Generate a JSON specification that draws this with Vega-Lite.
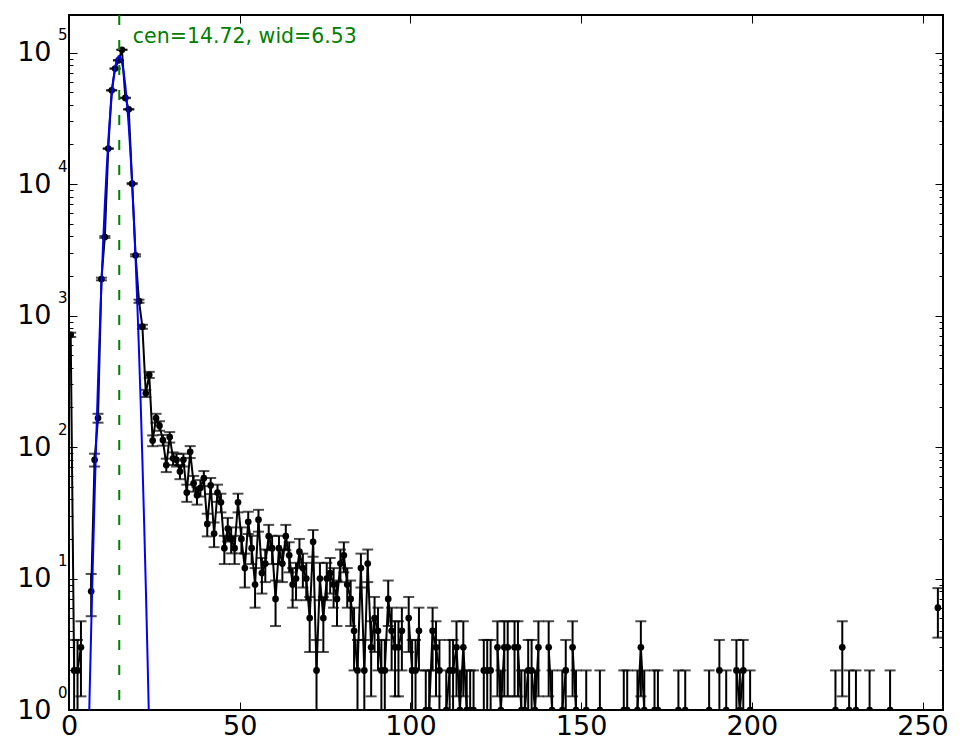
{
  "$schema": "https://vega.github.io/schema/vega-lite/v6.json",
  "width": 874,
  "height": 695,
  "autosize": {"type": "none"},
  "padding": {"left": 69, "top": 15, "right": 22, "bottom": 46},
  "background": "white",
  "config": {
    "view": {"stroke": "black", "strokeWidth": 2},
    "font": "DejaVu Sans",
    "axis": {"labelFont": "DejaVu Sans", "labelColor": "black", "tickColor": "black", "tickWidth": 1, "domain": false, "grid": false, "title": null, "labelOverlap": false, "labelBound": false, "labelFlush": false}
  },
  "datasets": {
    "hist": [
      {"x": 0.5, "n": 714, "lo": 687.28, "hi": 740.72, "s": 1},
      {"x": 1.5, "n": 2, "lo": 0.59, "hi": 3.41, "s": 1},
      {"x": 2.5, "n": 2, "lo": 0.59, "hi": 3.41, "s": 1},
      {"x": 3.5, "n": 3, "lo": 1.27, "hi": 4.73, "s": 1},
      {"x": 6.5, "n": 8, "lo": 5.17, "hi": 10.83, "s": 2},
      {"x": 7.5, "n": 80, "lo": 71.06, "hi": 88.94, "s": 2},
      {"x": 8.5, "n": 166, "lo": 153.12, "hi": 178.88, "s": 2},
      {"x": 9.5, "n": 1896, "lo": 1852.46, "hi": 1939.54, "s": 2},
      {"x": 10.5, "n": 3955, "lo": 3892.11, "hi": 4017.89, "s": 2},
      {"x": 11.5, "n": 18600, "lo": 18463.62, "hi": 18736.38, "s": 2},
      {"x": 12.5, "n": 51600, "lo": 51372.84, "hi": 51827.16, "s": 2},
      {"x": 13.5, "n": 75500, "lo": 75225.23, "hi": 75774.77, "s": 2},
      {"x": 14.5, "n": 87300, "lo": 87004.53, "hi": 87595.47, "s": 2},
      {"x": 15.5, "n": 105000, "lo": 104675.96, "hi": 105324.04, "s": 2},
      {"x": 16.5, "n": 45200, "lo": 44987.4, "hi": 45412.6, "s": 2},
      {"x": 17.5, "n": 37000, "lo": 36807.65, "hi": 37192.35, "s": 2},
      {"x": 18.5, "n": 10070, "lo": 9969.65, "hi": 10170.35, "s": 2},
      {"x": 19.5, "n": 2870, "lo": 2816.43, "hi": 2923.57, "s": 2},
      {"x": 20.5, "n": 1285, "lo": 1249.15, "hi": 1320.85, "s": 2},
      {"x": 21.5, "n": 822, "lo": 793.33, "hi": 850.67, "s": 2},
      {"x": 22.5, "n": 256, "lo": 240, "hi": 272, "s": 2},
      {"x": 23.5, "n": 354, "lo": 335.19, "hi": 372.81, "s": 2},
      {"x": 24.5, "n": 112, "lo": 101.42, "hi": 122.58, "s": 2},
      {"x": 25.5, "n": 166, "lo": 153.12, "hi": 178.88, "s": 2},
      {"x": 26.5, "n": 145, "lo": 132.96, "hi": 157.04, "s": 2},
      {"x": 27.5, "n": 113, "lo": 102.37, "hi": 123.63, "s": 2},
      {"x": 28.5, "n": 73, "lo": 64.46, "hi": 81.54, "s": 2},
      {"x": 29.5, "n": 119, "lo": 108.09, "hi": 129.91, "s": 2},
      {"x": 30.5, "n": 82, "lo": 72.94, "hi": 91.06, "s": 2},
      {"x": 31.5, "n": 80, "lo": 71.06, "hi": 88.94, "s": 2},
      {"x": 32.5, "n": 65, "lo": 56.94, "hi": 73.06, "s": 2},
      {"x": 33.5, "n": 80, "lo": 71.06, "hi": 88.94, "s": 2},
      {"x": 34.5, "n": 45, "lo": 38.29, "hi": 51.71, "s": 2},
      {"x": 35.5, "n": 92, "lo": 82.41, "hi": 101.59, "s": 2},
      {"x": 36.5, "n": 53, "lo": 45.72, "hi": 60.28, "s": 2},
      {"x": 37.5, "n": 43, "lo": 36.44, "hi": 49.56, "s": 2},
      {"x": 38.5, "n": 49, "lo": 42, "hi": 56, "s": 2},
      {"x": 39.5, "n": 58, "lo": 50.38, "hi": 65.62, "s": 2},
      {"x": 40.5, "n": 26, "lo": 20.9, "hi": 31.1, "s": 2},
      {"x": 41.5, "n": 51, "lo": 43.86, "hi": 58.14, "s": 2},
      {"x": 42.5, "n": 22, "lo": 17.31, "hi": 26.69, "s": 2},
      {"x": 43.5, "n": 45, "lo": 38.29, "hi": 51.71, "s": 2},
      {"x": 44.5, "n": 38, "lo": 31.84, "hi": 44.16, "s": 2},
      {"x": 45.5, "n": 17, "lo": 12.88, "hi": 21.12, "s": 2},
      {"x": 46.5, "n": 24, "lo": 19.1, "hi": 28.9, "s": 2},
      {"x": 47.5, "n": 20, "lo": 15.53, "hi": 24.47, "s": 2},
      {"x": 48.5, "n": 17, "lo": 12.88, "hi": 21.12, "s": 2},
      {"x": 49.5, "n": 38, "lo": 31.84, "hi": 44.16, "s": 2},
      {"x": 50.5, "n": 20, "lo": 15.53, "hi": 24.47, "s": 2},
      {"x": 51.5, "n": 12, "lo": 8.54, "hi": 15.46, "s": 2},
      {"x": 52.5, "n": 27, "lo": 21.8, "hi": 32.2, "s": 2},
      {"x": 53.5, "n": 17, "lo": 12.88, "hi": 21.12, "s": 2},
      {"x": 54.5, "n": 9, "lo": 6, "hi": 12, "s": 2},
      {"x": 55.5, "n": 28, "lo": 22.71, "hi": 33.29, "s": 2},
      {"x": 56.5, "n": 11, "lo": 7.68, "hi": 14.32, "s": 2},
      {"x": 57.5, "n": 13, "lo": 9.39, "hi": 16.61, "s": 2},
      {"x": 58.5, "n": 21, "lo": 16.42, "hi": 25.58, "s": 2},
      {"x": 59.5, "n": 17, "lo": 12.88, "hi": 21.12, "s": 2},
      {"x": 60.5, "n": 7, "lo": 4.35, "hi": 9.65, "s": 2},
      {"x": 61.5, "n": 17, "lo": 12.88, "hi": 21.12, "s": 2},
      {"x": 62.5, "n": 13, "lo": 9.39, "hi": 16.61, "s": 2},
      {"x": 63.5, "n": 21, "lo": 16.42, "hi": 25.58, "s": 2},
      {"x": 64.5, "n": 15, "lo": 11.13, "hi": 18.87, "s": 2},
      {"x": 65.5, "n": 9, "lo": 6, "hi": 12, "s": 2},
      {"x": 66.5, "n": 10, "lo": 6.84, "hi": 13.16, "s": 2},
      {"x": 67.5, "n": 16, "lo": 12, "hi": 20, "s": 2},
      {"x": 68.5, "n": 12, "lo": 8.54, "hi": 15.46, "s": 2},
      {"x": 69.5, "n": 10, "lo": 6.84, "hi": 13.16, "s": 2},
      {"x": 70.5, "n": 5, "lo": 2.76, "hi": 7.24, "s": 2},
      {"x": 71.5, "n": 19, "lo": 14.64, "hi": 23.36, "s": 2},
      {"x": 72.5, "n": 2, "lo": 0.59, "hi": 3.41, "s": 2},
      {"x": 73.5, "n": 10, "lo": 6.84, "hi": 13.16, "s": 2},
      {"x": 74.5, "n": 5, "lo": 2.76, "hi": 7.24, "s": 2},
      {"x": 75.5, "n": 10, "lo": 6.84, "hi": 13.16, "s": 2},
      {"x": 76.5, "n": 11, "lo": 7.68, "hi": 14.32, "s": 2},
      {"x": 77.5, "n": 9, "lo": 6, "hi": 12, "s": 2},
      {"x": 78.5, "n": 7, "lo": 4.35, "hi": 9.65, "s": 2},
      {"x": 79.5, "n": 13, "lo": 9.39, "hi": 16.61, "s": 2},
      {"x": 80.5, "n": 15, "lo": 11.13, "hi": 18.87, "s": 2},
      {"x": 81.5, "n": 9, "lo": 6, "hi": 12, "s": 2},
      {"x": 82.5, "n": 7, "lo": 4.35, "hi": 9.65, "s": 2},
      {"x": 83.5, "n": 4, "lo": 2, "hi": 6, "s": 2},
      {"x": 84.5, "n": 2, "lo": 0.59, "hi": 3.41, "s": 2},
      {"x": 85.5, "n": 12, "lo": 8.54, "hi": 15.46, "s": 2},
      {"x": 86.5, "n": 2, "lo": 0.59, "hi": 3.41, "s": 2},
      {"x": 87.5, "n": 13, "lo": 9.39, "hi": 16.61, "s": 2},
      {"x": 88.5, "n": 3, "lo": 1.27, "hi": 4.73, "s": 2},
      {"x": 89.5, "n": 5, "lo": 2.76, "hi": 7.24, "s": 2},
      {"x": 90.5, "n": 4, "lo": 2, "hi": 6, "s": 2},
      {"x": 91.5, "n": 2, "lo": 0.59, "hi": 3.41, "s": 2},
      {"x": 92.5, "n": 2, "lo": 0.59, "hi": 3.41, "s": 2},
      {"x": 93.5, "n": 7, "lo": 4.35, "hi": 9.65, "s": 2},
      {"x": 94.5, "n": 4, "lo": 2, "hi": 6, "s": 2},
      {"x": 95.5, "n": 3, "lo": 1.27, "hi": 4.73, "s": 2},
      {"x": 96.5, "n": 3, "lo": 1.27, "hi": 4.73, "s": 2},
      {"x": 97.5, "n": 4, "lo": 2, "hi": 6, "s": 2},
      {"x": 99.5, "n": 5, "lo": 2.76, "hi": 7.24, "s": 3},
      {"x": 100.5, "n": 2, "lo": 0.59, "hi": 3.41, "s": 3},
      {"x": 101.5, "n": 2, "lo": 0.59, "hi": 3.41, "s": 3},
      {"x": 102.5, "n": 4, "lo": 2, "hi": 6, "s": 3},
      {"x": 104.5, "n": 1, "lo": 0.01, "hi": 2, "s": 4},
      {"x": 105.5, "n": 1, "lo": 0.01, "hi": 2, "s": 4},
      {"x": 106.5, "n": 4, "lo": 2, "hi": 6, "s": 4},
      {"x": 107.5, "n": 3, "lo": 1.27, "hi": 4.73, "s": 4},
      {"x": 108.5, "n": 2, "lo": 0.59, "hi": 3.41, "s": 4},
      {"x": 110.5, "n": 1, "lo": 0.01, "hi": 2, "s": 5},
      {"x": 111.5, "n": 2, "lo": 0.59, "hi": 3.41, "s": 5},
      {"x": 112.5, "n": 2, "lo": 0.59, "hi": 3.41, "s": 5},
      {"x": 113.5, "n": 3, "lo": 1.27, "hi": 4.73, "s": 5},
      {"x": 114.5, "n": 1, "lo": 0.01, "hi": 2, "s": 5},
      {"x": 115.5, "n": 3, "lo": 1.27, "hi": 4.73, "s": 5},
      {"x": 116.5, "n": 1, "lo": 0.01, "hi": 2, "s": 5},
      {"x": 117.5, "n": 1, "lo": 0.01, "hi": 2, "s": 5},
      {"x": 118.5, "n": 1, "lo": 0.01, "hi": 2, "s": 5},
      {"x": 121.5, "n": 2, "lo": 0.59, "hi": 3.41, "s": 6},
      {"x": 122.5, "n": 2, "lo": 0.59, "hi": 3.41, "s": 6},
      {"x": 123.5, "n": 2, "lo": 0.59, "hi": 3.41, "s": 6},
      {"x": 125.5, "n": 3, "lo": 1.27, "hi": 4.73, "s": 7},
      {"x": 126.5, "n": 1, "lo": 0.01, "hi": 2, "s": 7},
      {"x": 127.5, "n": 3, "lo": 1.27, "hi": 4.73, "s": 7},
      {"x": 128.5, "n": 3, "lo": 1.27, "hi": 4.73, "s": 7},
      {"x": 130.5, "n": 3, "lo": 1.27, "hi": 4.73, "s": 8},
      {"x": 131.5, "n": 3, "lo": 1.27, "hi": 4.73, "s": 8},
      {"x": 132.5, "n": 1, "lo": 0.01, "hi": 2, "s": 8},
      {"x": 133.5, "n": 1, "lo": 0.01, "hi": 2, "s": 8},
      {"x": 134.5, "n": 2, "lo": 0.59, "hi": 3.41, "s": 8},
      {"x": 135.5, "n": 2, "lo": 0.59, "hi": 3.41, "s": 8},
      {"x": 136.5, "n": 1, "lo": 0.01, "hi": 2, "s": 8},
      {"x": 137.5, "n": 3, "lo": 1.27, "hi": 4.73, "s": 8},
      {"x": 140.5, "n": 3, "lo": 1.27, "hi": 4.73, "s": 9},
      {"x": 141.5, "n": 1, "lo": 0.01, "hi": 2, "s": 9},
      {"x": 144.5, "n": 1, "lo": 0.01, "hi": 2, "s": 10},
      {"x": 145.5, "n": 2, "lo": 0.59, "hi": 3.41, "s": 10},
      {"x": 147.5, "n": 3, "lo": 1.27, "hi": 4.73, "s": 11},
      {"x": 148.5, "n": 1, "lo": 0.01, "hi": 2, "s": 11},
      {"x": 151.5, "n": 1, "lo": 0.01, "hi": 2, "s": 12},
      {"x": 155.5, "n": 1, "lo": 0.01, "hi": 2, "s": 13},
      {"x": 162.5, "n": 1, "lo": 0.01, "hi": 2, "s": 14},
      {"x": 163.5, "n": 1, "lo": 0.01, "hi": 2, "s": 14},
      {"x": 166.5, "n": 1, "lo": 0.01, "hi": 2, "s": 15},
      {"x": 167.5, "n": 3, "lo": 1.27, "hi": 4.73, "s": 15},
      {"x": 168.5, "n": 1, "lo": 0.01, "hi": 2, "s": 15},
      {"x": 171.5, "n": 1, "lo": 0.01, "hi": 2, "s": 16},
      {"x": 172.5, "n": 1, "lo": 0.01, "hi": 2, "s": 16},
      {"x": 178.5, "n": 1, "lo": 0.01, "hi": 2, "s": 17},
      {"x": 180.5, "n": 1, "lo": 0.01, "hi": 2, "s": 18},
      {"x": 187.5, "n": 1, "lo": 0.01, "hi": 2, "s": 19},
      {"x": 190.5, "n": 2, "lo": 0.59, "hi": 3.41, "s": 20},
      {"x": 192.5, "n": 1, "lo": 0.01, "hi": 2, "s": 21},
      {"x": 195.5, "n": 2, "lo": 0.59, "hi": 3.41, "s": 22},
      {"x": 196.5, "n": 1, "lo": 0.01, "hi": 2, "s": 22},
      {"x": 197.5, "n": 2, "lo": 0.59, "hi": 3.41, "s": 22},
      {"x": 199.5, "n": 1, "lo": 0.01, "hi": 2, "s": 23},
      {"x": 224.5, "n": 1, "lo": 0.01, "hi": 2, "s": 24},
      {"x": 226.5, "n": 3, "lo": 1.27, "hi": 4.73, "s": 25},
      {"x": 228.5, "n": 1, "lo": 0.01, "hi": 2, "s": 26},
      {"x": 230.5, "n": 1, "lo": 0.01, "hi": 2, "s": 27},
      {"x": 234.5, "n": 1, "lo": 0.01, "hi": 2, "s": 28},
      {"x": 240.5, "n": 1, "lo": 0.01, "hi": 2, "s": 29},
      {"x": 254.5, "n": 6, "lo": 3.55, "hi": 8.45, "s": 30}
    ],
    "fit": [
      {"x": 5.0, "f": 0.074}, {"x": 5.5, "f": 0.3}, {"x": 6.0, "f": 1.18}, {"x": 6.5, "f": 4.15},
      {"x": 7.0, "f": 13.7}, {"x": 7.5, "f": 41.9}, {"x": 8.0, "f": 118.6}, {"x": 8.5, "f": 311},
      {"x": 9.0, "f": 759}, {"x": 9.5, "f": 1717}, {"x": 10.0, "f": 3594}, {"x": 10.5, "f": 6980},
      {"x": 11.0, "f": 12580}, {"x": 11.5, "f": 21020}, {"x": 12.0, "f": 32570}, {"x": 12.5, "f": 46790},
      {"x": 13.0, "f": 62330}, {"x": 13.5, "f": 76990}, {"x": 14.0, "f": 88190}, {"x": 14.5, "f": 93680},
      {"x": 14.65, "f": 94000}, {"x": 15.0, "f": 92280}, {"x": 15.5, "f": 84290}, {"x": 16.0, "f": 71390},
      {"x": 16.5, "f": 56080}, {"x": 17.0, "f": 40840}, {"x": 17.5, "f": 27580}, {"x": 18.0, "f": 17270},
      {"x": 18.5, "f": 10040}, {"x": 19.0, "f": 5405}, {"x": 19.5, "f": 2700}, {"x": 20.0, "f": 1250},
      {"x": 20.5, "f": 537}, {"x": 21.0, "f": 214}, {"x": 21.5, "f": 78.8}, {"x": 22.0, "f": 27},
      {"x": 22.5, "f": 8.6}, {"x": 23.0, "f": 2.53}, {"x": 23.5, "f": 0.69}, {"x": 24.0, "f": 0.17}
    ],
    "note": [
      {"cen": 14.72, "tx": 18.7, "ty": 117500, "label": "cen=14.72, wid=6.53"}
    ]
  },
  "layer": [
    {
      "data": {"name": "hist"},
      "mark": {"type": "rule", "color": "black", "strokeWidth": 2, "clip": true},
      "encoding": {
        "x": {
          "field": "x", "type": "quantitative",
          "scale": {"domain": [0, 256], "nice": false, "zero": false},
          "axis": {"orient": "bottom", "values": [0, 50, 100, 150, 200, 250], "ticks": false, "labelFontSize": 27, "labelPadding": 3}
        },
        "y": {
          "field": "lo", "type": "quantitative",
          "scale": {"type": "log", "domain": [1, 193000], "nice": false},
          "axis": {
            "orient": "left",
            "values": [1, 10, 100, 1000, 10000, 100000],
            "ticks": false,
            "labelExpr": "'10'",
            "labelFontSize": 27,
            "labelBaseline": "middle",
            "labelPadding": 18
          }
        },
        "y2": {"field": "hi"}
      }
    },
    {
      "data": {"name": "hist"},
      "mark": {"type": "tick", "orient": "horizontal", "size": 11, "thickness": 2, "color": "black", "clip": true},
      "encoding": {
        "x": {
          "field": "x", "type": "quantitative",
          "axis": {"orient": "top", "values": [0, 50, 100, 150, 200, 250], "tickSize": -8, "labels": false}
        },
        "y": {
          "field": "hi", "type": "quantitative",
          "axis": {
            "orient": "right",
            "values": [1, 2, 3, 4, 5, 6, 7, 8, 9, 10, 20, 30, 40, 50, 60, 70, 80, 90, 100, 200, 300, 400, 500, 600, 700, 800, 900, 1000, 2000, 3000, 4000, 5000, 6000, 7000, 8000, 9000, 10000, 20000, 30000, 40000, 50000, 60000, 70000, 80000, 90000, 100000],
            "tickSize": {"condition": {"test": "abs(log(datum.value)/LN10 - round(log(datum.value)/LN10)) < 0.001", "value": -8}, "value": -4},
            "labels": false
          }
        }
      }
    },
    {
      "data": {"name": "hist"},
      "mark": {"type": "tick", "orient": "horizontal", "size": 11, "thickness": 2, "color": "black", "clip": true},
      "encoding": {
        "x": {
          "field": "x", "type": "quantitative",
          "axis": {"orient": "bottom", "values": [0, 50, 100, 150, 200, 250], "tickSize": -8, "labels": false}
        },
        "y": {
          "field": "lo", "type": "quantitative",
          "axis": {
            "orient": "left",
            "values": [1, 10, 100, 1000, 10000, 100000],
            "ticks": false,
            "labelExpr": "'' + round(log(datum.value)/LN10)",
            "labelFontSize": 15,
            "labelBaseline": "middle",
            "labelOffset": -18,
            "labelPadding": 2
          }
        }
      }
    },
    {
      "data": {"name": "hist"},
      "mark": {"type": "line", "color": "black", "strokeWidth": 2, "clip": true},
      "encoding": {
        "x": {"field": "x", "type": "quantitative", "axis": null},
        "y": {
          "field": "n", "type": "quantitative",
          "axis": {
            "orient": "left",
            "values": [1, 2, 3, 4, 5, 6, 7, 8, 9, 10, 20, 30, 40, 50, 60, 70, 80, 90, 100, 200, 300, 400, 500, 600, 700, 800, 900, 1000, 2000, 3000, 4000, 5000, 6000, 7000, 8000, 9000, 10000, 20000, 30000, 40000, 50000, 60000, 70000, 80000, 90000, 100000],
            "tickSize": {"condition": {"test": "abs(log(datum.value)/LN10 - round(log(datum.value)/LN10)) < 0.001", "value": -8}, "value": -4},
            "labels": false
          }
        },
        "detail": {"field": "s", "type": "nominal"}
      }
    },
    {
      "data": {"name": "hist"},
      "mark": {"type": "circle", "color": "black", "opacity": 1, "size": 45, "clip": true},
      "encoding": {
        "x": {"field": "x", "type": "quantitative", "axis": null},
        "y": {"field": "n", "type": "quantitative", "axis": null}
      }
    },
    {
      "data": {"name": "fit"},
      "mark": {"type": "line", "color": "#0000ff", "strokeWidth": 2, "clip": true},
      "encoding": {
        "x": {"field": "x", "type": "quantitative", "axis": null},
        "y": {"field": "f", "type": "quantitative", "axis": null}
      }
    },
    {
      "data": {"name": "note"},
      "mark": {"type": "rule", "color": "#008000", "strokeWidth": 2, "strokeDash": [10, 15]},
      "encoding": {
        "x": {"field": "cen", "type": "quantitative", "axis": null}
      }
    },
    {
      "data": {"name": "note"},
      "mark": {"type": "text", "color": "#008000", "font": "DejaVu Sans", "fontSize": 20.5, "align": "left", "baseline": "alphabetic"},
      "encoding": {
        "x": {"field": "tx", "type": "quantitative", "axis": null},
        "y": {"field": "ty", "type": "quantitative", "axis": null},
        "text": {"field": "label"}
      }
    }
  ],
  "resolve": {"axis": {"x": "independent", "y": "independent"}}
}
